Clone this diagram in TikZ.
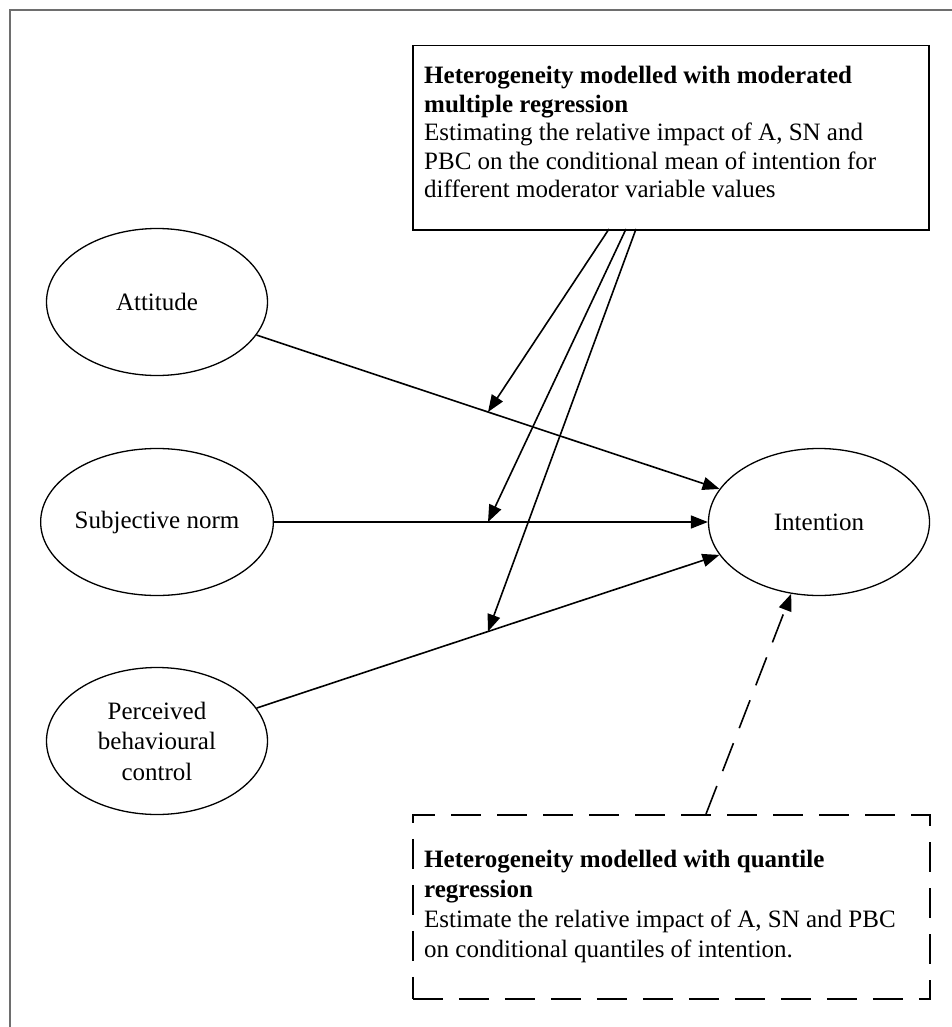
\documentclass[tikz,border=0pt]{standalone}
\usepackage{fontspec}
\setmainfont{Liberation Serif}
\usetikzlibrary{shapes.geometric,arrows.meta,calc}
\definecolor{framegray}{HTML}{6E6E6E}
\begin{document}
\begin{tikzpicture}[x=1pt,y=-1pt,
  every node/.style={font=\fontsize{25}{28.5}\selectfont},
  latent/.style={ellipse, draw, line width=1.3pt, minimum width=221pt, minimum height=147pt, inner sep=0pt, align=center},
  framebox/.style={draw, line width=1.5pt, anchor=north west, inner sep=0pt},
  boxtext/.style={anchor=north west, align=left, inner sep=0pt},
  conn/.style={line width=1.6pt, -{Triangle[length=17pt,width=13pt]}},
  dashline/.style={dash pattern=on 30pt off 16pt}
]
\useasboundingbox (0,0) rectangle (952,1027);
% outer frame (partly cut by the page)
\draw[framegray, line width=2pt] (10,1040) -- (10,10) -- (970,10);

% constructs
\node[latent] (att) at (157,302) {Attitude};
\node[latent] (sn) at (157,522) {Subjective norm};
\node[latent, font=\fontsize{25}{30.5}\selectfont] (pbc) at (157,741) {Perceived\\behavioural\\control};
\node[latent] (int) at (819,522) {Intention};

% moderated multiple regression box
\node[framebox, minimum width=516pt, minimum height=184pt] (mmr) at (412,45) {};
\node[boxtext] (mmrtext) at (424,66) {\textbf{Heterogeneity modelled with moderated}\\\textbf{multiple regression}\\Estimating the relative impact of A, SN and\\PBC on the conditional mean of intention for\\different moderator variable values};

% quantile regression box
\node[framebox, dashline, minimum width=517pt, minimum height=184pt] (qr) at (412,814) {};
\node[boxtext, font=\fontsize{25}{30}\selectfont] (qrtext) at (424,850) {\textbf{Heterogeneity modelled with quantile}\\\textbf{regression}\\Estimate the relative impact of A, SN and PBC\\on conditional quantiles of intention.};

% main paths
\draw[conn] (att) -- (int);
\draw[conn] (sn) -- (int);
\draw[conn] (pbc) -- (int);

% moderation arrows
\coordinate (s1) at (609,229);
\coordinate (s2) at (626,229);
\coordinate (s3) at (636,229);
\coordinate (m1) at ($(att)!0.5!(int)$);
\coordinate (m2) at ($(sn)!0.5!(int)$);
\coordinate (m3) at ($(pbc)!0.5!(int)$);
\draw[conn] (s1) -- (m1);
\draw[conn] (s2) -- (m2);
\draw[conn] (s3) -- (m3);

% quantile arrow
\coordinate (d0) at (706,814);
\draw[conn, dashline] (d0) -- (int);
\end{tikzpicture}
\end{document}
